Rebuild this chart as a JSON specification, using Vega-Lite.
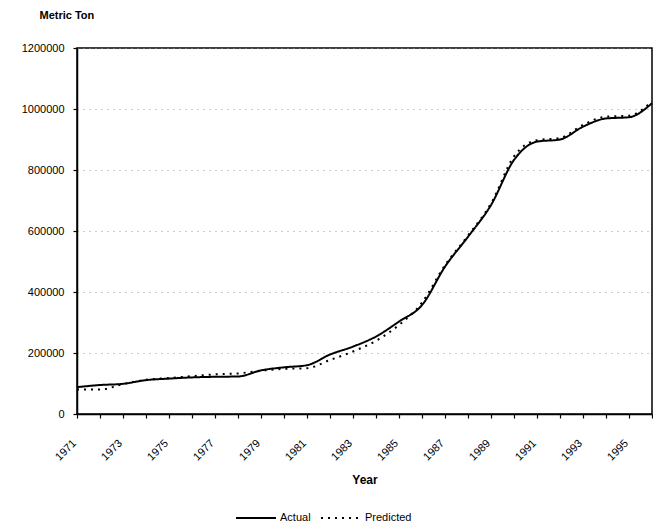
{
  "$schema": "https://vega.github.io/schema/vega-lite/v6.json",
  "width": 575,
  "height": 366,
  "autosize": "none",
  "padding": {"left": 77, "top": 48, "right": 1, "bottom": 116},
  "background": "white",
  "config": {
    "font": "Liberation Sans",
    "view": {"stroke": "black", "strokeWidth": 1.5}
  },
  "data": {
    "values": [
      {"Year": 1971, "Series": "Actual", "Value": 88000},
      {"Year": 1972, "Series": "Actual", "Value": 95000},
      {"Year": 1973, "Series": "Actual", "Value": 99000},
      {"Year": 1974, "Series": "Actual", "Value": 111000},
      {"Year": 1975, "Series": "Actual", "Value": 116000},
      {"Year": 1976, "Series": "Actual", "Value": 120000},
      {"Year": 1977, "Series": "Actual", "Value": 122000},
      {"Year": 1978, "Series": "Actual", "Value": 123000},
      {"Year": 1979, "Series": "Actual", "Value": 143000},
      {"Year": 1980, "Series": "Actual", "Value": 153000},
      {"Year": 1981, "Series": "Actual", "Value": 160000},
      {"Year": 1982, "Series": "Actual", "Value": 195000},
      {"Year": 1983, "Series": "Actual", "Value": 221000},
      {"Year": 1984, "Series": "Actual", "Value": 254000},
      {"Year": 1985, "Series": "Actual", "Value": 303000},
      {"Year": 1986, "Series": "Actual", "Value": 357000},
      {"Year": 1987, "Series": "Actual", "Value": 483000},
      {"Year": 1988, "Series": "Actual", "Value": 581000},
      {"Year": 1989, "Series": "Actual", "Value": 685000},
      {"Year": 1990, "Series": "Actual", "Value": 833000},
      {"Year": 1991, "Series": "Actual", "Value": 893000},
      {"Year": 1992, "Series": "Actual", "Value": 900000},
      {"Year": 1993, "Series": "Actual", "Value": 942000},
      {"Year": 1994, "Series": "Actual", "Value": 969000},
      {"Year": 1995, "Series": "Actual", "Value": 973000},
      {"Year": 1996, "Series": "Actual", "Value": 1019000},
      {"Year": 1971, "Series": "Predicted", "Value": 80000},
      {"Year": 1972, "Series": "Predicted", "Value": 80000},
      {"Year": 1973, "Series": "Predicted", "Value": 98000},
      {"Year": 1974, "Series": "Predicted", "Value": 112000},
      {"Year": 1975, "Series": "Predicted", "Value": 118000},
      {"Year": 1976, "Series": "Predicted", "Value": 124000},
      {"Year": 1977, "Series": "Predicted", "Value": 130000},
      {"Year": 1978, "Series": "Predicted", "Value": 133000},
      {"Year": 1979, "Series": "Predicted", "Value": 142000},
      {"Year": 1980, "Series": "Predicted", "Value": 148000},
      {"Year": 1981, "Series": "Predicted", "Value": 150000},
      {"Year": 1982, "Series": "Predicted", "Value": 177000},
      {"Year": 1983, "Series": "Predicted", "Value": 205000},
      {"Year": 1984, "Series": "Predicted", "Value": 240000},
      {"Year": 1985, "Series": "Predicted", "Value": 292000},
      {"Year": 1986, "Series": "Predicted", "Value": 365000},
      {"Year": 1987, "Series": "Predicted", "Value": 488000},
      {"Year": 1988, "Series": "Predicted", "Value": 585000},
      {"Year": 1989, "Series": "Predicted", "Value": 690000},
      {"Year": 1990, "Series": "Predicted", "Value": 845000},
      {"Year": 1991, "Series": "Predicted", "Value": 898000},
      {"Year": 1992, "Series": "Predicted", "Value": 905000},
      {"Year": 1993, "Series": "Predicted", "Value": 948000},
      {"Year": 1994, "Series": "Predicted", "Value": 975000},
      {"Year": 1995, "Series": "Predicted", "Value": 978000},
      {"Year": 1996, "Series": "Predicted", "Value": 1025000}
    ]
  },
  "mark": {"type": "line", "color": "black", "strokeWidth": 2, "interpolate": "monotone"},
  "encoding": {
    "x": {
      "field": "Year",
      "type": "quantitative",
      "scale": {"domain": [1971, 1996], "nice": false, "zero": false},
      "axis": {
        "title": "Year",
        "titleFont": "Liberation Sans",
        "titleFontWeight": "bold",
        "titleFontSize": 12,
        "titlePadding": 12,
        "values": [1971,1972,1973,1974,1975,1976,1977,1978,1979,1980,1981,1982,1983,1984,1985,1986,1987,1988,1989,1990,1991,1992,1993,1994,1995,1996],
        "labelExpr": "datum.value % 2 == 1 && datum.value < 1996 ? format(datum.value, 'd') : ''",
        "labelAngle": -45,
        "labelAlign": "right",
        "labelBaseline": "top",
        "labelFontSize": 11,
        "labelColor": "black",
        "labelPadding": 19,
        "labelOffset": -7,
        "labelOverlap": false,
        "labelFlush": false,
        "grid": false,
        "domainColor": "black",
        "domainWidth": 1.5,
        "tickColor": "black",
        "tickSize": 4,
        "tickWidth": 1.2
      }
    },
    "y": {
      "field": "Value",
      "type": "quantitative",
      "scale": {"domain": [0, 1200000], "nice": false},
      "axis": {
        "title": "Metric Ton",
        "titleAngle": 0,
        "titleAlign": "left",
        "titleBaseline": "middle",
        "titleX": -38,
        "titleY": -33,
        "titleFontWeight": "bold",
        "titleFontSize": 11,
        "values": [0, 200000, 400000, 600000, 800000, 1000000, 1200000],
        "format": "d",
        "labelFontSize": 11,
        "labelColor": "black",
        "labelPadding": 9,
        "domainColor": "black",
        "domainWidth": 1.5,
        "tickColor": "black",
        "tickSize": 4,
        "tickWidth": 1.2,
        "grid": true,
        "gridColor": "#999999",
        "gridDash": [1, 5],
        "gridWidth": 1
      }
    },
    "strokeDash": {
      "field": "Series",
      "type": "nominal",
      "scale": {"domain": ["Actual", "Predicted"], "range": [[1, 0], [2, 5]]},
      "legend": {
        "title": null,
        "orient": "none",
        "direction": "horizontal",
        "legendX": 158,
        "legendY": 449,
        "symbolType": "stroke",
        "symbolSize": 1600,
        "symbolStrokeColor": "black",
        "symbolStrokeWidth": 2,
        "labelFontSize": 11,
        "labelColor": "black",
        "columnPadding": 6,
        "labelOffset": 3
      }
    }
  }
}
